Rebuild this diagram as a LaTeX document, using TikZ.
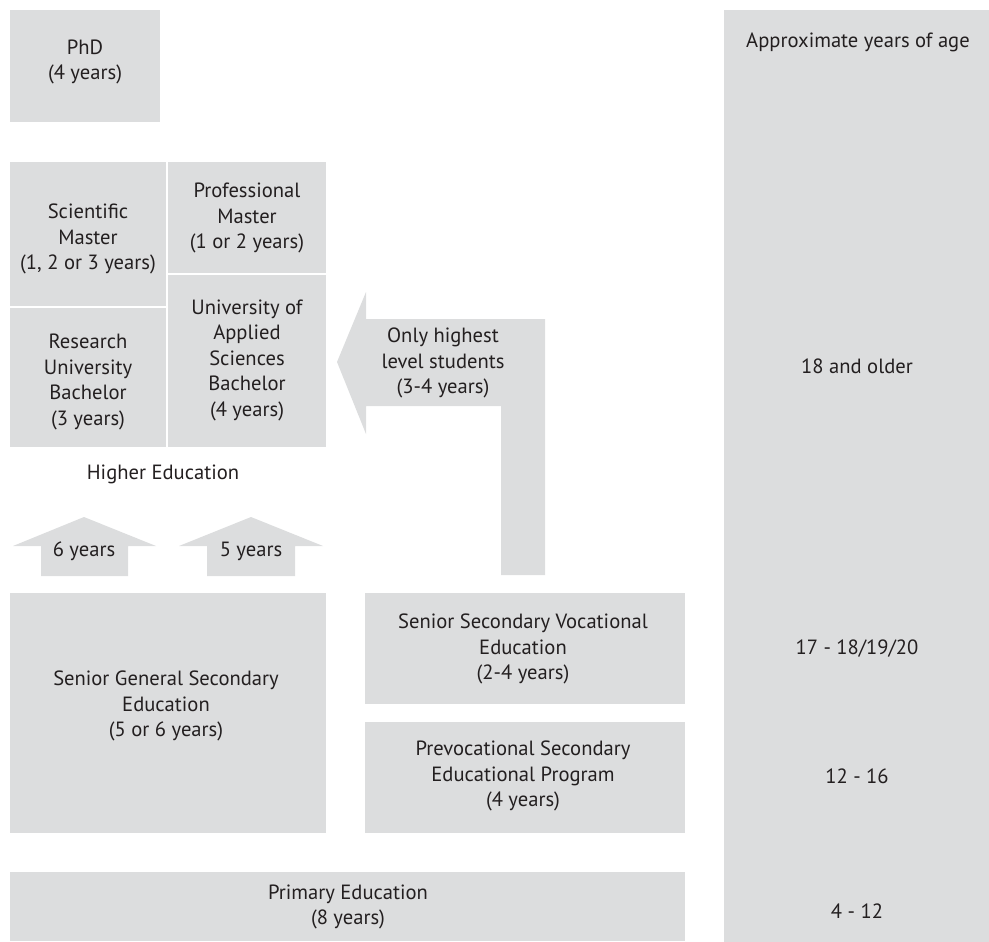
\documentclass[tikz,border=0pt]{standalone}
\usepackage{fontspec}
\setmainfont{PT Sans}
\definecolor{boxgray}{HTML}{DCDDDE}
\definecolor{inkgray}{HTML}{231F20}
\begin{document}
\begin{tikzpicture}[x=1pt,y=-1pt,
  every node/.style={text=inkgray,font=\fontsize{20.6}{25.5}\selectfont,align=center,inner sep=0pt},
  block/.style={fill=boxgray,draw=none},
  flow/.style={fill=boxgray,draw=none}]
\useasboundingbox (0,0) rectangle (989,942);

% age column
\fill[block] (724,10) rectangle (989,942);
\node (agehead) at (858,42) {Approximate years of age};
\node (age18) at (857,366) {18 and older};
\node (age17) at (857,649) {17 - 18/19/20};
\node (age12) at (857,776) {12 - 16};
\node (age4) at (857,911) {4 - 12};

% doctoral level
\fill[block] (10,10) rectangle (160,122);
\node (phd) at (85,62) {PhD\\(4 years)};

% master and bachelor blocks
\fill[block] (10,162) rectangle (166,306);
\node (scimaster) at (88,239) {Scientific\\Master\\(1, 2 or 3 years)};
\fill[block] (168,162) rectangle (326,273);
\node (promaster) at (247,218) {Professional\\Master\\(1 or 2 years)};
\fill[block] (10,308) rectangle (166,447);
\node (resbach) at (88,382) {Research\\University\\Bachelor\\(3 years)};
\fill[block] (168,275) rectangle (326,447);
\node (uasbach) at (247,360) {University of\\Applied\\Sciences\\Bachelor\\(4 years)};

\node (higher) at (163,474) {Higher Education};

% upward arrows from senior general secondary
\fill[flow] (84,517) -- (156,546) -- (128,546) -- (128,576) -- (41,576) -- (41,546) -- (13,546) -- cycle;
\node (six) at (84,551) {6 years};
\fill[flow] (251,517) -- (323,546) -- (295,546) -- (295,576) -- (207,576) -- (207,546) -- (179,546) -- cycle;
\node (five) at (251,551) {5 years};

% bent arrow from vocational education to applied sciences
\fill[flow] (337,362) -- (366,292) -- (366,319) -- (545,319) -- (545,575) -- (501,575)
  -- (501,406) -- (366,406) -- (366,434) -- cycle;
\node (highest) at (443,363) {Only highest\\level students\\(3-4 years)};

% secondary education
\fill[block] (10,593) rectangle (326,833);
\node (havo) at (166,706) {Senior General Secondary\\Education\\(5 or 6 years)};
\fill[block] (365,593) rectangle (685,704);
\node (mbo) at (523,649) {Senior Secondary Vocational\\Education\\(2-4 years)};
\fill[block] (365,722) rectangle (685,833);
\node (vmbo) at (523,776) {Prevocational Secondary\\Educational Program\\(4 years)};

% primary education
\fill[block] (10,872) rectangle (685,941);
\node (primary) at (348,907) {Primary Education\\(8 years)};
\end{tikzpicture}
\end{document}
